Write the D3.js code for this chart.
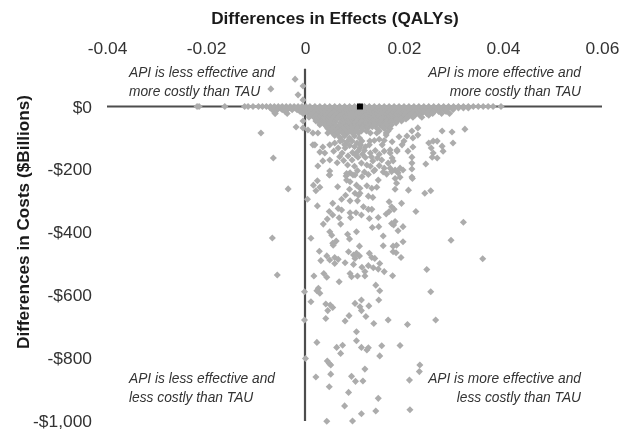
<!DOCTYPE html>
<html>
<head>
<meta charset="utf-8">
<script src="https://cdn.jsdelivr.net/npm/d3@7"></script>
<style>
  html, body { margin: 0; padding: 0; background: #fff; }
  svg { display: block; filter: blur(0.45px); }
  text { font-family: "Liberation Sans", Arial, sans-serif; }
  .title { font-weight: bold; font-size: 17.2px; fill: #1a1a1a; }
  .tick-label { font-size: 17.4px; fill: #333; }
  .note { font-style: italic; font-size: 13.75px; fill: #333; }
</style>
</head>
<body>
<svg id="chart" width="630" height="431"></svg>
<script>
const X_TICKS = [-0.04, -0.02, 0, 0.02, 0.04, 0.06];
const Y_TICKS = [0, -200, -400, -600, -800, -1000];
const X_TITLE = 'Differences in Effects (QALYs)';
const Y_TITLE = 'Differences in Costs ($Billions)';
const MEAN_POINT = [0.0111, 0];

// effects along the zero-cost row, the rest of the dense band sits below it
const zeroRow = [-.0218,-.0214,-.0162,-.0122,-.0115,-.0105,-.0094,-.0086,-.0078,-.0070,-.0062,-.0054,-.0046,-.0038,-.0030,-.0022,-.0014,-.0006,.0002,.0010,.0020,.0030,.0040,.0050,.0060,.0070,.0080,.0090,.0100,.0110,.0120,.0130,.0140,.0150,.0160,.0170,.0180,.0190,.0200,.0210,.0220,.0230,.0240,.0250,.0260,.0270,.0280,.0290,.0300,.0310,.0320,.0330,.0340,.0350,.0360,.0370,.0380,.0396];
const row5 = [-.0070,-.0060,-.0050,-.0040,-.0030,-.0020,-.0010,.0000,.0010,.0020,.0030,.0040,.0050,.0060,.0070,.0080,.0090,.0100,.0110,.0120,.0130,.0140,.0150,.0160,.0170,.0180,.0190,.0200,.0210,.0220,.0230,.0240,.0250,.0260,.0270,.0280,.0290,.0300,.0310,.0320,.0330];
const row10 = [-.0066,-.0056,-.0046,-.0036,-.0026,-.0016,-.0006,.0004,.0014,.0024,.0034,.0044,.0054,.0064,.0074,.0084,.0094,.0104,.0114,.0124,.0134,.0144,.0154,.0164,.0174,.0184,.0194,.0204,.0214,.0224,.0234,.0244,.0254,.0264,.0274,.0284,.0299];
const row16 = [-.0040,-.0010,.0000,.0010,.0020,.0030,.0040,.0050,.0060,.0070,.0080,.0090,.0100,.0110,.0120,.0130,.0140,.0150,.0160,.0170,.0180,.0190,.0200,.0210,.0220,.0230,.0240,.0250,.0260,.0270,.0285];
const row22 = [-.0060,-.0036,-.0004,.0006,.0016,.0026,.0036,.0046,.0056,.0066,.0076,.0086,.0096,.0106,.0116,.0126,.0136,.0146,.0156,.0166,.0176,.0186,.0196,.0206,.0216,.0226,.0236,.0246,.0258,.0276,.0292];
const row28 = [.0012,.0022,.0032,.0042,.0052,.0062,.0072,.0082,.0092,.0102,.0112,.0122,.0132,.0142,.0152,.0162,.0172,.0182,.0192,.0202,.0212,.0222,.0232,.0250];
const row34 = [.0008,.0018,.0028,.0038,.0048,.0058,.0068,.0078,.0088,.0098,.0108,.0118,.0128,.0138,.0148,.0158,.0168,.0178,.0188,.0198,.0208,.0218,.0236];
const row40 = [.0024,.0034,.0044,.0054,.0064,.0074,.0084,.0094,.0104,.0114,.0124,.0134,.0144,.0154,.0164,.0174,.0184,.0194,.0204];
const row46 = [-.0004,.0022,.0032,.0042,.0052,.0062,.0075,.0085,.0095,.0105,.0115,.0125,.0135,.0145,.0155,.0165,.0175,.0185,.0195];
const row52 = [.0030,.0040,.0050,.0060,.0072,.0082,.0092,.0102,.0112,.0122,.0132,.0142,.0152,.0162,.0172,.0184];
const row58 = [.0030,.0040,.0050,.0060,.0070,.0080,.0090,.0100,.0110,.0120,.0130,.0142,.0152,.0162,.0175];
const row64 = [.0044,.0054,.0064,.0074,.0084,.0094,.0104,.0116,.0126,.0136,.0156,.0168];
const row70 = [.0046,.0056,.0066,.0076,.0086,.0095,.0106,.0116,.0126,.0146,.0160,.0172];
const row78 = [.0052,.0062,.0072,.0082,.0092,.0102,.0114,.0124,.0150,.0168];
const row84 = [.0016,.0026,.0046,.0056,.0066,.0076,.0086,.0096,.0108,.0132,.0145,.0164];

const upperPoints = [[-.0020,87],[-.0004,65],[-.0014,37],[-.0004,21],[-.0069,56],[-.0061,-21],[-.0046,-5],[-.0089,-84],[-.0064,-164],[-.0018,-65],[-.0004,-68],[.0006,-75]];

const shallowPoints = [[.0016,-122],[.0020,-122],[.0036,-129],[.0030,-145],[.0040,-148],[.0050,-122],[.0050,-170],[.0036,-173],[.0026,-189],[.0065,-179],[.0050,-205],[.0050,-218],[.0071,-110],[.0067,-132],[.0075,-148],[.0081,-132],[.0087,-157],[.0095,-170],[.0107,-161],[.0125,-186],[.0111,-132],[.0107,-142],[.0137,-173],[.0155,-170],[.0141,-202],[.0168,-180],[.0172,-138],[.0186,-142],[.0172,-148],[.0131,-110],[.0156,-122],[.0164,-91],[.0091,-211],[.0083,-221],[.0097,-218],[.0277,-78],[.0297,-81],[.0323,-72],[.0299,-116],[.0259,-110],[.0267,-110],[.0250,-116],[.0255,-132],[.0259,-148],[.0257,-161],[.0267,-164],[.0277,-126],[.0279,-142],[.0244,-183],[.0228,-91],[.0218,-129],[.0208,-142],[.0186,-138],[.0216,-161],[.0216,-180],[.0216,-199],[.0216,-224],[.0206,-94],[.0218,-100],[.0228,-68],[.0216,-78],[.0192,-196],[.0198,-202],[.0182,-202],[.0188,-211],[.0176,-164],[.0178,-173]];

// crowded patch just under the band
const crowdedPoints = [[.0060,-92],[.0070,-98],[.0080,-94],[.0090,-100],[.0100,-94],[.0110,-100],[.0075,-108],[.0085,-112],[.0095,-110],[.0105,-116],[.0115,-110],[.0080,-122],[.0090,-124],[.0100,-128],[.0112,-122],[.0122,-128],[.0130,-122],[.0140,-108],[.0150,-104],[.0160,-108],[.0176,-112],[.0190,-96],[.0200,-110],[.0196,-122],[.0120,-140],[.0132,-148],[.0142,-140],[.0150,-152],[.0160,-142],[.0096,-146],[.0102,-154],[.0116,-152],[.0122,-162],[.0134,-160],[.0146,-164],[.0060,-116],[.0058,-142],[.0070,-160],[.0078,-172],[.0086,-186],[.0100,-190],[.0114,-180],[.0132,-190],[.0150,-188],[.0160,-196],[.0172,-196],[.0106,-204],[.0120,-208],[.0128,-216],[.0158,-208]];

const middlePoints = [[-.0034,-262],[-.0066,-418],[-.0056,-536],[.0012,-419],[.0005,-295],[.0025,-316],[.0017,-250],[.0025,-236],[.0022,-268],[.0030,-257],[.0066,-255],[.0049,-218],[.0084,-213],[.0101,-218],[.0115,-223],[.0091,-239],[.0084,-234],[.0090,-263],[.0104,-250],[.0111,-260],[.0101,-276],[.0111,-276],[.0125,-252],[.0135,-260],[.0145,-257],[.0148,-234],[.0139,-205],[.0165,-215],[.0182,-229],[.0185,-244],[.0192,-225],[.0175,-207],[.0217,-229],[.0182,-263],[.0209,-266],[.0242,-276],[.0254,-268],[.0056,-308],[.0074,-295],[.0082,-282],[.0091,-300],[.0106,-300],[.0108,-282],[.0128,-285],[.0137,-289],[.0170,-303],[.0195,-308],[.0049,-334],[.0056,-345],[.0045,-358],[.0067,-324],[.0074,-329],[.0069,-354],[.0037,-374],[.0072,-374],[.0091,-338],[.0103,-338],[.0092,-353],[.0114,-345],[.0118,-319],[.0128,-327],[.0135,-327],[.0130,-356],[.0148,-353],[.0164,-342],[.0170,-334],[.0175,-319],[.0180,-327],[.0224,-334],[.0320,-368],[.0050,-398],[.0054,-409],[.0104,-398],[.0086,-406],[.0090,-421],[.0136,-385],[.0149,-382],[.0179,-377],[.0175,-372],[.0182,-366],[.0188,-395],[.0198,-382],[.0158,-412],[.0198,-430],[.0295,-425],[.0158,-443],[.0178,-444],[.0185,-441],[.0110,-444],[.0057,-441],[.0063,-428],[.0056,-435],[.0029,-460],[.0044,-475],[.0032,-490],[.0050,-488],[.0060,-480],[.0067,-486],[.0060,-499],[.0081,-497],[.0088,-462],[.0098,-472],[.0104,-467],[.0101,-483],[.0110,-475],[.0130,-467],[.0135,-480],[.0141,-483],[.0178,-462],[.0184,-465],[.0194,-480],[.0151,-499],[.0359,-484],[.0098,-502],[.0115,-511],[.0128,-506],[.0138,-513],[.0148,-517],[.0160,-525],[.0121,-525],[.0121,-539],[.0091,-531],[.0094,-541],[.0106,-539],[.0038,-531],[.0044,-543],[.0018,-539],[.0069,-557],[.0177,-538],[.0246,-518],[.0143,-568],[.0151,-586],[.0254,-589],[.0027,-578],[.0024,-586],[.0030,-594],[-.0001,-589]];

const lowerPoints = [[.0012,-621],[.0042,-628],[.0051,-631],[.0056,-639],[.0046,-649],[.0101,-626],[.0114,-615],[.0111,-637],[.0114,-649],[.0129,-634],[.0149,-615],[.0089,-665],[.0123,-668],[.0081,-682],[.0042,-674],[-.0001,-679],[.0139,-690],[.0168,-679],[.0207,-693],[.0264,-679],[.0104,-716],[.0104,-745],[.0024,-750],[.0064,-766],[.0076,-759],[.0072,-785],[.0114,-766],[.0125,-774],[.0128,-767],[.0155,-761],[.0192,-760],[.0151,-793],[.0001,-801],[.0045,-809],[.0049,-817],[.0052,-822],[.0121,-835],[.0232,-822],[.0231,-843],[.0022,-860],[.0052,-851],[.0094,-858],[.0102,-874],[.0117,-873],[.0211,-870],[.0049,-891],[.0088,-909],[.0148,-928],[.0080,-952],[.0143,-968],[.0212,-964],[.0114,-977],[.0044,-1001],[.0096,-1000]];

const NOTES = [
  { x: 129, y: 77, anchor: 'start', text: 'API is less effective and' },
  { x: 129, y: 96, anchor: 'start', text: 'more costly than TAU' },
  { x: 581, y: 77, anchor: 'end', text: 'API is more effective and' },
  { x: 581, y: 96, anchor: 'end', text: 'more costly than TAU' },
  { x: 129, y: 383, anchor: 'start', text: 'API is less effective and' },
  { x: 129, y: 402, anchor: 'start', text: 'less costly than TAU' },
  { x: 581, y: 383, anchor: 'end', text: 'API is more effective and' },
  { x: 581, y: 402, anchor: 'end', text: 'less costly than TAU' }
];

const svg = d3.select('#chart');
const x = d3.scaleLinear().domain([-0.04, 0.06]).range([107, 602]);
const y = d3.scaleLinear().domain([0, -1000]).range([106.5, 421]);

function makeRow(effects, cost) { return effects.map(e => [e, cost]); }

const points = [
  ...makeRow(zeroRow, 0), ...makeRow(row5, -5), ...makeRow(row10, -10), ...makeRow(row16, -16),
  ...makeRow(row22, -22), ...makeRow(row28, -28), ...makeRow(row34, -34), ...makeRow(row40, -40),
  ...makeRow(row46, -46), ...makeRow(row52, -52), ...makeRow(row58, -58), ...makeRow(row64, -64),
  ...makeRow(row70, -70), ...makeRow(row78, -78), ...makeRow(row84, -84),
  ...upperPoints, ...shallowPoints, ...crowdedPoints, ...middlePoints, ...lowerPoints
];

// top axis, labels only
const xAxis = d3.axisTop(x).tickValues(X_TICKS).tickSize(0).tickPadding(0)
  .tickFormat(d => d === 0 ? '0' : d3.format('.2f')(d).replace('\u2212', '-'));
const gx = svg.append('g').attr('transform', 'translate(0,54)').call(xAxis);
gx.select('.domain').remove();
gx.selectAll('text').attr('class', 'tick-label').attr('font-size', null).attr('font-family', null);

const yAxis = d3.axisLeft(y).tickValues(Y_TICKS).tickSize(0).tickPadding(0)
  .tickFormat(d => d === 0 ? '$0' : '-$' + d3.format(',')(-d));
const gy = svg.append('g').attr('transform', 'translate(92,0)').call(yAxis);
gy.select('.domain').remove();
gy.selectAll('text').attr('class', 'tick-label').attr('font-size', null).attr('font-family', null);

// quadrant lines
svg.append('line').attr('x1', x(-0.04)).attr('x2', x(0.06)).attr('y1', y(0)).attr('y2', y(0))
  .attr('stroke', '#4d4d4d').attr('stroke-width', 2);
svg.append('line').attr('x1', x(0)).attr('x2', x(0)).attr('y1', y(120)).attr('y2', y(-1000))
  .attr('stroke', '#4d4d4d').attr('stroke-width', 2.2);

svg.append('g').selectAll('path').data(points).join('path')
  .attr('d', d3.symbol(d3.symbolSquare, 25))
  .attr('transform', d => `translate(${x(d[0])},${y(d[1])}) rotate(45)`)
  .attr('fill', '#acacac');

svg.append('rect')
  .attr('x', x(MEAN_POINT[0]) - 3).attr('y', y(MEAN_POINT[1]) - 3)
  .attr('width', 6).attr('height', 6).attr('fill', '#000');

svg.selectAll('.note').data(NOTES).join('text')
  .attr('class', 'note')
  .attr('x', d => d.x).attr('y', d => d.y)
  .attr('text-anchor', d => d.anchor)
  .text(d => d.text);

svg.append('text').attr('class', 'title')
  .attr('x', 335).attr('y', 24).attr('text-anchor', 'middle').text(X_TITLE);
svg.append('text').attr('class', 'title')
  .attr('transform', 'translate(29,222) rotate(-90)').attr('text-anchor', 'middle').text(Y_TITLE);
</script>
</body>
</html>
